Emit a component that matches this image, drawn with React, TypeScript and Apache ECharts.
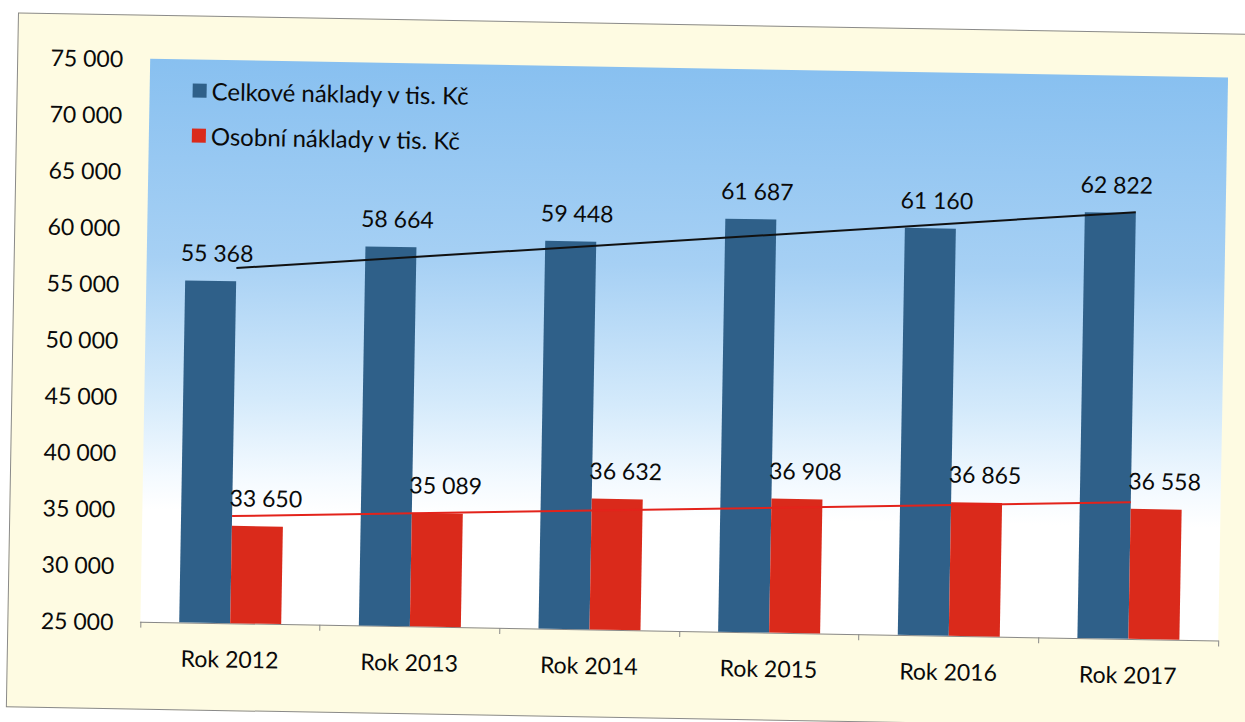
import React, { useEffect, useRef } from "react";
import * as echarts from "echarts";

const categories = ["Rok 2012", "Rok 2013", "Rok 2014", "Rok 2015", "Rok 2016", "Rok 2017"];
const totalCosts = [55368, 58664, 59448, 61687, 61160, 62822];
const personalCosts = [33650, 35089, 36632, 36908, 36865, 36558];
// trend lines (first and last category)
const trendTotal = [56550, null, null, null, null, 62900];
const trendPersonal = [34520, null, null, null, null, 37130];
const seriesNames = ["Celkové náklady v tis. Kč", "Osobní náklady v tis. Kč"];

const FONT = "Lato, 'Open Sans', sans-serif";
const fmt = (v: number) => String(v).replace(/\B(?=(\d{3})+(?!\d))/g, " ");

export default function App() {
  const ref = useRef<HTMLDivElement>(null);
  useEffect(() => {
    if (!ref.current) return;
    const chart = echarts.init(ref.current, null, { renderer: "svg" });
    chart.setOption({
      animation: false,
      backgroundColor: "transparent",
      textStyle: { fontFamily: FONT },
      grid: {
        left: 145,
        right: 22,
        top: 67,
        bottom: 92,
        show: true,
        borderWidth: 0,
        backgroundColor: new echarts.graphic.LinearGradient(0, 0, 0, 1, [
          { offset: 0, color: "#88c0f0" },
          { offset: 0.35, color: "#a6d0f4" },
          { offset: 0.6, color: "#d4eafb" },
          { offset: 0.74, color: "#f4faff" },
          { offset: 0.8, color: "#ffffff" },
          { offset: 1, color: "#ffffff" },
        ]),
      },
      legend: {
        data: seriesNames,
        orient: "vertical",
        left: 183,
        top: 81,
        icon: "rect",
        itemWidth: 14,
        itemHeight: 14,
        itemGap: 21,
        textStyle: { fontFamily: FONT, fontSize: 24, color: "#0a0a0a" },
      },
      xAxis: {
        type: "category",
        data: categories,
        axisLine: { show: true, lineStyle: { color: "#888", width: 1 } },
        axisTick: { show: true, length: 6, lineStyle: { color: "#888" } },
        axisLabel: { fontFamily: FONT, fontSize: 23, color: "#0a0a0a", margin: 24 },
      },
      yAxis: {
        type: "value",
        min: 25000,
        max: 75000,
        interval: 5000,
        axisLine: { show: false },
        axisTick: { show: false },
        splitLine: { show: false },
        axisLabel: { fontFamily: FONT, fontSize: 23, color: "#0a0a0a", margin: 27, formatter: (v: number) => fmt(v) },
      },
      series: [
        {
          name: seriesNames[0],
          type: "bar",
          data: totalCosts,
          barWidth: 51,
          barGap: "0%",
          itemStyle: { color: "#2f6089" },
          label: {
            show: true,
            position: "top",
            distance: 17,
            offset: [6, 0],
            fontFamily: FONT,
            fontSize: 23,
            color: "#0a0a0a",
            formatter: (p: any) => fmt(p.value),
          },
        },
        {
          name: seriesNames[1],
          type: "bar",
          data: personalCosts,
          barWidth: 51,
          barGap: "0%",
          itemStyle: { color: "#da2a1b" },
          label: {
            show: true,
            position: "top",
            distance: 17,
            offset: [8, 0],
            fontFamily: FONT,
            fontSize: 23,
            color: "#0a0a0a",
            formatter: (p: any) => fmt(p.value),
          },
        },
        {
          type: "line",
          data: trendTotal,
          connectNulls: true,
          symbol: "none",
          lineStyle: { color: "#111", width: 2 },
          z: 3,
        },
        {
          type: "line",
          data: trendPersonal,
          connectNulls: true,
          symbol: "none",
          lineStyle: { color: "#e3231b", width: 2 },
          z: 3,
        },
      ],
    });
    return () => chart.dispose();
  }, []);

  return (
    <div style={{ position: "fixed", left: 0, top: 0, width: 1245, height: 722, background: "#fff", overflow: "hidden" }}>
      <div style={{ position: "absolute", left: 0, top: 0, width: 1245, height: 722, transform: "rotate(1deg)" }}>
        <div
          style={{
            position: "absolute",
            left: 12,
            top: 23,
            width: 1250,
            height: 695,
            background: "#fefbe2",
            border: "1px solid #8a8a8a",
            boxSizing: "border-box",
          }}
        />
        <div ref={ref} style={{ position: "absolute", left: 0, top: 0, width: 1245, height: 722 }} />
      </div>
    </div>
  );
}
